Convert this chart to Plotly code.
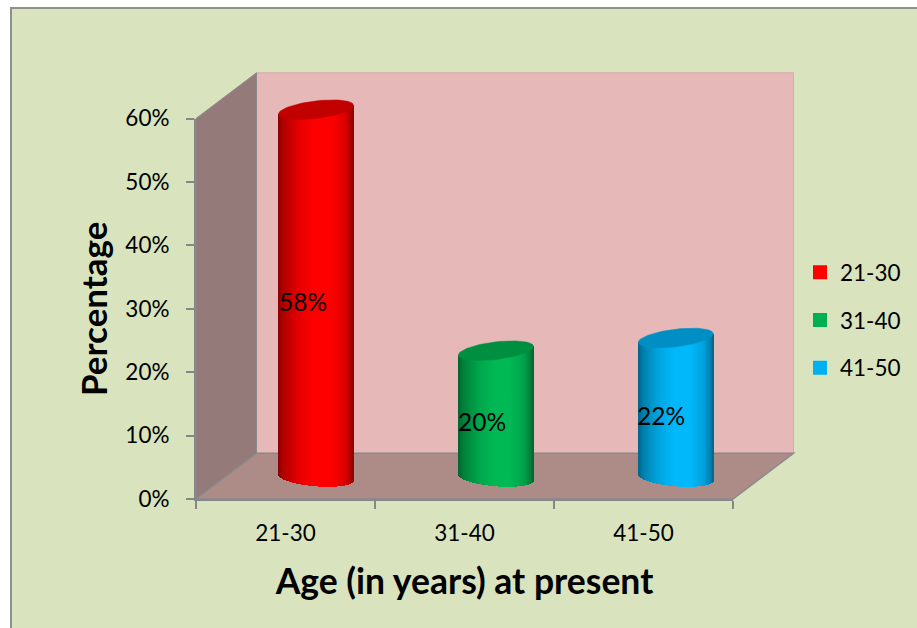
import numpy as np
import plotly.graph_objects as go

# Chart data
age_groups = ["21-30", "31-40", "41-50"]
percent_values = [58, 20, 22]
percent_ticks = [0, 10, 20, 30, 40, 50, 60]

# Cylinder palette: side colour, cap colour
side_colors = [(255, 0, 0), (0, 184, 84), (0, 184, 250)]
cap_colors = ["#C20000", "#008F40", "#008FC4"]
legend_colors = ["#FF0000", "#00B050", "#00B0F0"]

# Page geometry in pixels
W, H = 917, 628
AX_L, AX_R = 196, 733
AX_B, AX_T = 499, 118.5
PX_PER_CAT = (AX_R - AX_L) / 3
PX_PER_PCT = (AX_B - AX_T) / 60

# Oblique projection of the box depth, in axis units
DEPTH_X = 60.5 / PX_PER_CAT
DEPTH_Y = 45.7 / PX_PER_PCT
BAR_PITCH = 1.005
BAR_X_SHIFT = 30.5 / PX_PER_CAT
BAR_Y_SHIFT = 21.5 / PX_PER_PCT
BAR_HALF = 37.5 / PX_PER_CAT
CAP_B = 8.8 / PX_PER_PCT
CAP_TILT = 0.115 * PX_PER_CAT / PX_PER_PCT   # percent per category unit
BASE_TILT = 0.08 * PX_PER_CAT / PX_PER_PCT

x_min = -0.5 - AX_L / PX_PER_CAT
x_max = x_min + W / PX_PER_CAT
y_min = -(H - AX_B) / PX_PER_PCT
y_max = y_min + H / PX_PER_PCT


def poly(points):
    return "M" + " L".join(f"{x:.4f},{y:.4f}" for x, y in points) + " Z"


x0, x1 = -0.5, 2.5
y0, y1 = 0, 60
back_wall = [(x0 + DEPTH_X, y0 + DEPTH_Y), (x1 + DEPTH_X, y0 + DEPTH_Y),
             (x1 + DEPTH_X, y1 + DEPTH_Y), (x0 + DEPTH_X, y1 + DEPTH_Y)]
side_wall = [(x0, y0), (x0 + DEPTH_X, y0 + DEPTH_Y), (x0 + DEPTH_X, y1 + DEPTH_Y), (x0, y1)]
floor = [(x0, y0), (x1, y0), (x1 + DEPTH_X, y0 + DEPTH_Y), (x0 + DEPTH_X, y0 + DEPTH_Y)]


def wall(points, fill, edge, width):
    return dict(type="path", xref="x2", yref="y2", layer="below", path=poly(points),
                fillcolor=fill, line=dict(color=edge, width=width))


shapes = [
    dict(type="rect", xref="paper", yref="paper", layer="below",
         x0=11 / W, x1=1.01, y0=-0.01, y1=1 - 8 / H,
         fillcolor="#D9E4BF", line=dict(color="#8F8F8F", width=2)),
    wall(back_wall, "#E6B8B7", "#D9A9A8", 1),
    wall(side_wall, "#947B79", "#8A8A8A", 1),
    wall(floor, "#AD8C88", "#8A8A8A", 1.5),
]

fig = go.Figure()

# Carries the category axis and its boundary ticks
fig.add_trace(go.Bar(x=age_groups, y=percent_values, opacity=0, showlegend=False,
                     hoverinfo="skip", xaxis="x", yaxis="y"))

# Shading across a cylinder, from its left edge to its right edge
shade_t = [-1.0, -0.85, -0.45, -0.05, 0.4, 0.76, 0.94, 1.0]
shade_k = [0.55, 0.70, 0.90, 1.0, 1.0, 0.88, 0.68, 0.55]
STRIPS = 75

for i, (value, rgb, cap) in enumerate(zip(percent_values, side_colors, cap_colors)):
    cx = i * BAR_PITCH + BAR_X_SHIFT
    t = (np.arange(STRIPS) + 0.5) / STRIPS * 2 - 1
    k = np.interp(t, shade_t, shade_k)
    colors = [f"rgb({int(rgb[0]*c)},{int(rgb[1]*c)},{int(rgb[2]*c)})" for c in k]
    xs = cx + t * BAR_HALF
    bottom = BAR_Y_SHIFT - BASE_TILT * t * BAR_HALF - CAP_B * np.sqrt(1 - t ** 2)
    top = BAR_Y_SHIFT + value + CAP_TILT * t * BAR_HALF
    fig.add_trace(go.Bar(x=xs, y=top - bottom, base=bottom,
                         width=2.08 * BAR_HALF / STRIPS,
                         marker=dict(color=colors, line=dict(width=0)),
                         showlegend=False, hoverinfo="skip", xaxis="x2", yaxis="y2"))
    # Cap of the cylinder
    a = np.linspace(0, 2 * np.pi, 90)
    fig.add_trace(go.Scatter(
        x=cx + BAR_HALF * np.cos(a),
        y=BAR_Y_SHIFT + value + CAP_TILT * BAR_HALF * np.cos(a) + CAP_B * np.sin(a),
        mode="lines", fill="toself", fillcolor=cap, line=dict(color=cap, width=0.5),
        showlegend=False, hoverinfo="skip", xaxis="x2", yaxis="y2"))

# Value labels
fig.add_trace(go.Scatter(
    x=[i + 17.5 / PX_PER_CAT for i in range(3)],
    y=[v / 2 + 10.5 / PX_PER_PCT for v in percent_values],
    text=[f"{v}%" for v in percent_values], mode="text",
    textfont=dict(family="Lato", size=24.5, color="#000000"),
    showlegend=False, hoverinfo="skip", xaxis="x2", yaxis="y2"))

# Legend entries
for name, color in zip(age_groups, legend_colors):
    fig.add_trace(go.Bar(x=[None], y=[None], name=name, legendgroup=name,
                         marker=dict(color=color, line=dict(color=color, width=2)),
                         xaxis="x2", yaxis="y2"))

grey = "#868686"
fig.update_layout(
    width=W, height=H, autosize=False,
    margin=dict(l=0, r=0, t=0, b=0, autoexpand=False),
    paper_bgcolor="#FFFFFF", plot_bgcolor="rgba(0,0,0,0)",
    barmode="overlay", bargap=0,
    shapes=shapes,
    font=dict(family="Lato", color="#000000"),
    xaxis=dict(type="category", categoryorder="array", categoryarray=age_groups,
               domain=[AX_L / W, AX_R / W], range=[-0.5, 2.5], tickson="boundaries",
               ticks="outside", ticklen=8, tickwidth=2, tickcolor=grey,
               showline=True, linecolor=grey, linewidth=2, showgrid=False,
               tickfont=dict(size=22.5), anchor="y", ticklabelstandoff=13, automargin=False,
               title=dict(text="<b>Age (in years) at present</b>",
                          font=dict(size=35.5), standoff=24)),
    yaxis=dict(domain=[(H - AX_B) / H, (H - AX_T) / H], range=[0, 60],
               tickmode="array", tickvals=percent_ticks,
               ticktext=[f"{v}%" for v in percent_ticks],
               ticks="outside", ticklen=8, tickwidth=2, tickcolor=grey,
               showline=True, linecolor=grey, linewidth=2, showgrid=False,
               zeroline=False, tickfont=dict(size=22.5), anchor="x",
               ticklabelstandoff=12, automargin=False,
               title=dict(text="<b>Percentage</b>", font=dict(size=35), standoff=7)),
    xaxis2=dict(domain=[0, 1], range=[x_min, x_max], visible=False, anchor="y2"),
    yaxis2=dict(domain=[0, 1], range=[y_min, y_max], visible=False, anchor="x2"),
    legend=dict(x=800 / W, y=1 - 251 / H, xanchor="left", yanchor="top",
                font=dict(size=22.5), tracegroupgap=15.5, traceorder="grouped",
                bgcolor="rgba(0,0,0,0)", itemclick=False, itemdoubleclick=False),
)

fig.write_html("out.html")
